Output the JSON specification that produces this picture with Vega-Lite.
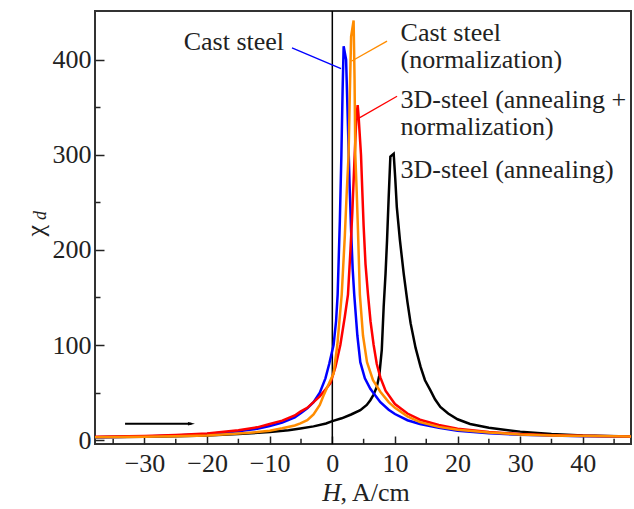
{
  "$schema": "https://vega.github.io/schema/vega-lite/v6.json",
  "width": 536,
  "height": 433,
  "autosize": "none",
  "padding": {"left": 95, "top": 11, "right": 3, "bottom": 65},
  "background": "white",
  "config": {"view": {"stroke": "#333", "strokeWidth": 2}, "font": "Liberation Serif, Times New Roman, Times, serif"},
  "datasets": {
    "curves": [
      {"series": "3D-steel (annealing)", "H": -37.9, "chi": 3},
      {"series": "3D-steel (annealing)", "H": -30, "chi": 3.5},
      {"series": "3D-steel (annealing)", "H": -25, "chi": 4.2},
      {"series": "3D-steel (annealing)", "H": -20, "chi": 5},
      {"series": "3D-steel (annealing)", "H": -15, "chi": 6.5},
      {"series": "3D-steel (annealing)", "H": -10, "chi": 8.5},
      {"series": "3D-steel (annealing)", "H": -7, "chi": 10.5},
      {"series": "3D-steel (annealing)", "H": -5.1, "chi": 12.3},
      {"series": "3D-steel (annealing)", "H": -3, "chi": 14.5},
      {"series": "3D-steel (annealing)", "H": -1, "chi": 17.5},
      {"series": "3D-steel (annealing)", "H": 0, "chi": 20},
      {"series": "3D-steel (annealing)", "H": 1.5, "chi": 23},
      {"series": "3D-steel (annealing)", "H": 3, "chi": 27},
      {"series": "3D-steel (annealing)", "H": 4.47, "chi": 31.6},
      {"series": "3D-steel (annealing)", "H": 5.5, "chi": 37},
      {"series": "3D-steel (annealing)", "H": 6.07, "chi": 42},
      {"series": "3D-steel (annealing)", "H": 6.6, "chi": 48},
      {"series": "3D-steel (annealing)", "H": 7.1, "chi": 56},
      {"series": "3D-steel (annealing)", "H": 7.5, "chi": 68},
      {"series": "3D-steel (annealing)", "H": 7.9, "chi": 95},
      {"series": "3D-steel (annealing)", "H": 8.2, "chi": 140},
      {"series": "3D-steel (annealing)", "H": 8.5, "chi": 175},
      {"series": "3D-steel (annealing)", "H": 8.74, "chi": 210},
      {"series": "3D-steel (annealing)", "H": 9.0, "chi": 255},
      {"series": "3D-steel (annealing)", "H": 9.27, "chi": 298},
      {"series": "3D-steel (annealing)", "H": 9.8, "chi": 301},
      {"series": "3D-steel (annealing)", "H": 10.05, "chi": 275},
      {"series": "3D-steel (annealing)", "H": 10.3, "chi": 245},
      {"series": "3D-steel (annealing)", "H": 10.8, "chi": 210},
      {"series": "3D-steel (annealing)", "H": 11.4, "chi": 175},
      {"series": "3D-steel (annealing)", "H": 12.0, "chi": 145},
      {"series": "3D-steel (annealing)", "H": 12.5, "chi": 123},
      {"series": "3D-steel (annealing)", "H": 13.3, "chi": 97},
      {"series": "3D-steel (annealing)", "H": 14.1, "chi": 77},
      {"series": "3D-steel (annealing)", "H": 14.8, "chi": 63},
      {"series": "3D-steel (annealing)", "H": 15.65, "chi": 52.6},
      {"series": "3D-steel (annealing)", "H": 16.4, "chi": 43},
      {"series": "3D-steel (annealing)", "H": 17.25, "chi": 35},
      {"series": "3D-steel (annealing)", "H": 18.5, "chi": 28},
      {"series": "3D-steel (annealing)", "H": 20, "chi": 22},
      {"series": "3D-steel (annealing)", "H": 22, "chi": 17},
      {"series": "3D-steel (annealing)", "H": 25, "chi": 13},
      {"series": "3D-steel (annealing)", "H": 30, "chi": 9},
      {"series": "3D-steel (annealing)", "H": 35, "chi": 6.5},
      {"series": "3D-steel (annealing)", "H": 40, "chi": 5},
      {"series": "3D-steel (annealing)", "H": 47.7, "chi": 4},

      {"series": "Cast steel", "H": -37.9, "chi": 3},
      {"series": "Cast steel", "H": -30, "chi": 4},
      {"series": "Cast steel", "H": -25, "chi": 5},
      {"series": "Cast steel", "H": -20, "chi": 6.5},
      {"series": "Cast steel", "H": -15, "chi": 9.5},
      {"series": "Cast steel", "H": -12, "chi": 12},
      {"series": "Cast steel", "H": -10, "chi": 15},
      {"series": "Cast steel", "H": -8, "chi": 18.5},
      {"series": "Cast steel", "H": -6, "chi": 24},
      {"series": "Cast steel", "H": -5, "chi": 28.5},
      {"series": "Cast steel", "H": -4, "chi": 33.5},
      {"series": "Cast steel", "H": -3, "chi": 40},
      {"series": "Cast steel", "H": -2, "chi": 50},
      {"series": "Cast steel", "H": -1.1, "chi": 65},
      {"series": "Cast steel", "H": -0.5, "chi": 80},
      {"series": "Cast steel", "H": 0.2, "chi": 100},
      {"series": "Cast steel", "H": 0.6, "chi": 125},
      {"series": "Cast steel", "H": 0.85, "chi": 153},
      {"series": "Cast steel", "H": 1.2, "chi": 230},
      {"series": "Cast steel", "H": 1.45, "chi": 300},
      {"series": "Cast steel", "H": 1.65, "chi": 370},
      {"series": "Cast steel", "H": 1.81, "chi": 414},
      {"series": "Cast steel", "H": 2.2, "chi": 400},
      {"series": "Cast steel", "H": 2.5, "chi": 330},
      {"series": "Cast steel", "H": 2.75, "chi": 270},
      {"series": "Cast steel", "H": 3.0, "chi": 220},
      {"series": "Cast steel", "H": 3.25, "chi": 180},
      {"series": "Cast steel", "H": 3.5, "chi": 153},
      {"series": "Cast steel", "H": 4.0, "chi": 110},
      {"series": "Cast steel", "H": 4.47, "chi": 82},
      {"series": "Cast steel", "H": 5.2, "chi": 65},
      {"series": "Cast steel", "H": 6.07, "chi": 54},
      {"series": "Cast steel", "H": 7.67, "chi": 40},
      {"series": "Cast steel", "H": 9, "chi": 32},
      {"series": "Cast steel", "H": 10, "chi": 27.5},
      {"series": "Cast steel", "H": 12, "chi": 21},
      {"series": "Cast steel", "H": 14, "chi": 17},
      {"series": "Cast steel", "H": 17, "chi": 13},
      {"series": "Cast steel", "H": 20, "chi": 10},
      {"series": "Cast steel", "H": 25, "chi": 7.3},
      {"series": "Cast steel", "H": 30, "chi": 5.7},
      {"series": "Cast steel", "H": 35, "chi": 4.8},
      {"series": "Cast steel", "H": 40, "chi": 4.1},
      {"series": "Cast steel", "H": 47.7, "chi": 3.5},

      {"series": "3D-steel (annealing + normalization)", "H": -37.9, "chi": 3.5},
      {"series": "3D-steel (annealing + normalization)", "H": -30, "chi": 4.5},
      {"series": "3D-steel (annealing + normalization)", "H": -25, "chi": 5.5},
      {"series": "3D-steel (annealing + normalization)", "H": -20, "chi": 7},
      {"series": "3D-steel (annealing + normalization)", "H": -15, "chi": 10.5},
      {"series": "3D-steel (annealing + normalization)", "H": -12, "chi": 13.5},
      {"series": "3D-steel (annealing + normalization)", "H": -10, "chi": 17},
      {"series": "3D-steel (annealing + normalization)", "H": -8, "chi": 20.5},
      {"series": "3D-steel (annealing + normalization)", "H": -6, "chi": 26},
      {"series": "3D-steel (annealing + normalization)", "H": -5.1, "chi": 30},
      {"series": "3D-steel (annealing + normalization)", "H": -4, "chi": 34},
      {"series": "3D-steel (annealing + normalization)", "H": -3, "chi": 40},
      {"series": "3D-steel (annealing + normalization)", "H": -2, "chi": 46},
      {"series": "3D-steel (annealing + normalization)", "H": -1, "chi": 54},
      {"series": "3D-steel (annealing + normalization)", "H": -0.3, "chi": 60},
      {"series": "3D-steel (annealing + normalization)", "H": 0.5, "chi": 77},
      {"series": "3D-steel (annealing + normalization)", "H": 1.28, "chi": 100},
      {"series": "3D-steel (annealing + normalization)", "H": 2.0, "chi": 130},
      {"series": "3D-steel (annealing + normalization)", "H": 2.5, "chi": 153},
      {"series": "3D-steel (annealing + normalization)", "H": 2.9, "chi": 200},
      {"series": "3D-steel (annealing + normalization)", "H": 3.2, "chi": 240},
      {"series": "3D-steel (annealing + normalization)", "H": 3.57, "chi": 300},
      {"series": "3D-steel (annealing + normalization)", "H": 3.85, "chi": 340},
      {"series": "3D-steel (annealing + normalization)", "H": 4.05, "chi": 352},
      {"series": "3D-steel (annealing + normalization)", "H": 4.2, "chi": 340},
      {"series": "3D-steel (annealing + normalization)", "H": 4.58, "chi": 300},
      {"series": "3D-steel (annealing + normalization)", "H": 4.8, "chi": 260},
      {"series": "3D-steel (annealing + normalization)", "H": 5.0, "chi": 225},
      {"series": "3D-steel (annealing + normalization)", "H": 5.3, "chi": 185},
      {"series": "3D-steel (annealing + normalization)", "H": 5.7, "chi": 153},
      {"series": "3D-steel (annealing + normalization)", "H": 6.1, "chi": 125},
      {"series": "3D-steel (annealing + normalization)", "H": 6.6, "chi": 100},
      {"series": "3D-steel (annealing + normalization)", "H": 7.1, "chi": 80},
      {"series": "3D-steel (annealing + normalization)", "H": 7.67, "chi": 66},
      {"series": "3D-steel (annealing + normalization)", "H": 8.5, "chi": 52},
      {"series": "3D-steel (annealing + normalization)", "H": 10, "chi": 38},
      {"series": "3D-steel (annealing + normalization)", "H": 12, "chi": 28},
      {"series": "3D-steel (annealing + normalization)", "H": 14, "chi": 21.5},
      {"series": "3D-steel (annealing + normalization)", "H": 17, "chi": 16},
      {"series": "3D-steel (annealing + normalization)", "H": 20, "chi": 12},
      {"series": "3D-steel (annealing + normalization)", "H": 25, "chi": 8.5},
      {"series": "3D-steel (annealing + normalization)", "H": 30, "chi": 6.5},
      {"series": "3D-steel (annealing + normalization)", "H": 35, "chi": 5.3},
      {"series": "3D-steel (annealing + normalization)", "H": 40, "chi": 4.6},
      {"series": "3D-steel (annealing + normalization)", "H": 47.7, "chi": 4},

      {"series": "Cast steel (normalization)", "H": -37.9, "chi": 3},
      {"series": "Cast steel (normalization)", "H": -30, "chi": 3.5},
      {"series": "Cast steel (normalization)", "H": -25, "chi": 4.2},
      {"series": "Cast steel (normalization)", "H": -20, "chi": 5},
      {"series": "Cast steel (normalization)", "H": -15, "chi": 7},
      {"series": "Cast steel (normalization)", "H": -12, "chi": 8.5},
      {"series": "Cast steel (normalization)", "H": -10, "chi": 10},
      {"series": "Cast steel (normalization)", "H": -8, "chi": 12.5},
      {"series": "Cast steel (normalization)", "H": -6, "chi": 15.5},
      {"series": "Cast steel (normalization)", "H": -5.1, "chi": 17.6},
      {"series": "Cast steel (normalization)", "H": -4, "chi": 21},
      {"series": "Cast steel (normalization)", "H": -3, "chi": 27},
      {"series": "Cast steel (normalization)", "H": -2, "chi": 37},
      {"series": "Cast steel (normalization)", "H": -1.4, "chi": 47},
      {"series": "Cast steel (normalization)", "H": -0.5, "chi": 60},
      {"series": "Cast steel (normalization)", "H": 0.2, "chi": 70},
      {"series": "Cast steel (normalization)", "H": 0.8, "chi": 100},
      {"series": "Cast steel (normalization)", "H": 1.5, "chi": 153},
      {"series": "Cast steel (normalization)", "H": 2.0, "chi": 215},
      {"series": "Cast steel (normalization)", "H": 2.3, "chi": 260},
      {"series": "Cast steel (normalization)", "H": 2.6, "chi": 300},
      {"series": "Cast steel (normalization)", "H": 2.8, "chi": 365},
      {"series": "Cast steel (normalization)", "H": 3.0, "chi": 424},
      {"series": "Cast steel (normalization)", "H": 3.4, "chi": 441},
      {"series": "Cast steel (normalization)", "H": 3.55, "chi": 380},
      {"series": "Cast steel (normalization)", "H": 3.67, "chi": 300},
      {"series": "Cast steel (normalization)", "H": 3.9, "chi": 260},
      {"series": "Cast steel (normalization)", "H": 4.1, "chi": 220},
      {"series": "Cast steel (normalization)", "H": 4.4, "chi": 153},
      {"series": "Cast steel (normalization)", "H": 4.9, "chi": 110},
      {"series": "Cast steel (normalization)", "H": 5.54, "chi": 82},
      {"series": "Cast steel (normalization)", "H": 6.5, "chi": 63},
      {"series": "Cast steel (normalization)", "H": 7.67, "chi": 51},
      {"series": "Cast steel (normalization)", "H": 9, "chi": 40},
      {"series": "Cast steel (normalization)", "H": 10, "chi": 34},
      {"series": "Cast steel (normalization)", "H": 12, "chi": 25},
      {"series": "Cast steel (normalization)", "H": 14, "chi": 19},
      {"series": "Cast steel (normalization)", "H": 17, "chi": 14},
      {"series": "Cast steel (normalization)", "H": 20, "chi": 11},
      {"series": "Cast steel (normalization)", "H": 25, "chi": 8},
      {"series": "Cast steel (normalization)", "H": 30, "chi": 6},
      {"series": "Cast steel (normalization)", "H": 35, "chi": 5},
      {"series": "Cast steel (normalization)", "H": 40, "chi": 4.5},
      {"series": "Cast steel (normalization)", "H": 47.7, "chi": 4}
    ],
    "zero": [{"H": 0}],
    "minorX": [{"H": -35}, {"H": -25}, {"H": -15}, {"H": -5}, {"H": 5}, {"H": 15}, {"H": 25}, {"H": 35}, {"H": 45}],
    "leaders": [
      {"series": "Cast steel", "H": -6.44, "chi": 412.3, "H2": 1.39, "chi2": 390.5},
      {"series": "Cast steel (normalization)", "H": 8.74, "chi": 419.3, "H2": 3.04, "chi2": 398.2},
      {"series": "3D-steel (annealing + normalization)", "H": 10.34, "chi": 361.4, "H2": 3.83, "chi2": 336.8}
    ],
    "labelsRight": [
      {"text": "Cast steel", "H": -7.7, "chi": 418}
    ],
    "labelsLeft": [
      {"text": "Cast steel", "H": 10.9, "chi": 428},
      {"text": "(normalization)", "H": 10.9, "chi": 400},
      {"text": "3D-steel (annealing +", "H": 10.9, "chi": 358},
      {"text": "normalization)", "H": 10.9, "chi": 329},
      {"text": "3D-steel (annealing)", "H": 10.9, "chi": 284}
    ],
    "arrowLine": [{"H": -33.1, "H2": -22.5, "chi": 17.4}],
    "arrowHead": [{"H": -22.5, "chi": 17.4}],
    "xTitleItalic": [{"text": "H", "H": -1.6, "chi": -55.8}],
    "xTitleNormal": [{"text": ", A/cm", "H": 1.3, "chi": -55.8}],
    "yTitleChi": [{"text": "χ", "H": -47.4, "chi": 220}],
    "yTitleSub": [{"text": "d", "H": -46.6, "chi": 236}]
  },
  "layer": [
    {
      "data": {"name": "zero"},
      "mark": {"type": "rule", "color": "#000", "strokeWidth": 1.5},
      "encoding": {
        "x": {"field": "H", "type": "quantitative"}
      }
    },
    {
      "data": {"name": "minorX"},
      "mark": {"type": "rule", "color": "#222", "strokeWidth": 1.5},
      "encoding": {
        "x": {"field": "H", "type": "quantitative"},
        "y": {"datum": -4},
        "y2": {"datum": 1.5}
      }
    },
    {
      "data": {"name": "curves"},
      "mark": {"type": "line", "strokeWidth": 2.5, "clip": true},
      "encoding": {
        "x": {
          "field": "H", "type": "quantitative",
          "scale": {"domain": [-37.9, 47.7], "nice": false, "zero": false},
          "axis": {
            "title": null, "domain": false, "grid": false,
            "values": [-30, -20, -10, 0, 10, 20, 30, 40],
            "tickSize": -8,
            "tickColor": "#222", "tickWidth": 1.5,
            "labelFont": "Liberation Serif, Times New Roman, Times, serif", "labelFontSize": 26, "labelColor": "#222",
            "labelPadding": 14, "labelFlush": false, "labelOverlap": false
          }
        },
        "y": {
          "field": "chi", "type": "quantitative",
          "scale": {"domain": [-4, 451], "nice": false, "zero": false},
          "axis": {
            "title": null, "domain": false, "grid": false,
            "values": [0, 50, 100, 150, 200, 250, 300, 350, 400],
            "labelExpr": "datum.value % 100 === 0 ? datum.label : ''",
            "tickSize": {"condition": {"test": "datum.value % 100 === 0", "value": -9}, "value": -5},
            "tickColor": "#222", "tickWidth": 1.5,
            "labelFont": "Liberation Serif, Times New Roman, Times, serif", "labelFontSize": 26, "labelColor": "#222",
            "labelPadding": 13, "labelFlush": false, "labelOverlap": false
          }
        },
        "color": {
          "field": "series", "type": "nominal",
          "scale": {
            "domain": ["3D-steel (annealing)", "Cast steel", "3D-steel (annealing + normalization)", "Cast steel (normalization)"],
            "range": ["#000000", "#0000ff", "#ff0000", "#ff8c00"]
          },
          "legend": null
        }
      }
    },
    {
      "data": {"name": "leaders"},
      "mark": {"type": "rule", "strokeWidth": 1.3},
      "encoding": {
        "x": {"field": "H", "type": "quantitative"},
        "x2": {"field": "H2"},
        "y": {"field": "chi", "type": "quantitative"},
        "y2": {"field": "chi2"},
        "color": {"field": "series", "type": "nominal", "legend": null}
      }
    },
    {
      "data": {"name": "labelsRight"},
      "mark": {"type": "text", "align": "right", "baseline": "middle", "fontSize": 26, "font": "Liberation Serif, Times New Roman, Times, serif", "color": "#222"},
      "encoding": {
        "x": {"field": "H", "type": "quantitative"},
        "y": {"field": "chi", "type": "quantitative"},
        "text": {"field": "text"}
      }
    },
    {
      "data": {"name": "labelsLeft"},
      "mark": {"type": "text", "align": "left", "baseline": "middle", "fontSize": 26, "font": "Liberation Serif, Times New Roman, Times, serif", "color": "#222"},
      "encoding": {
        "x": {"field": "H", "type": "quantitative"},
        "y": {"field": "chi", "type": "quantitative"},
        "text": {"field": "text"}
      }
    },
    {
      "data": {"name": "arrowLine"},
      "mark": {"type": "rule", "color": "#000", "strokeWidth": 2},
      "encoding": {
        "x": {"field": "H", "type": "quantitative"},
        "x2": {"field": "H2"},
        "y": {"field": "chi", "type": "quantitative"}
      }
    },
    {
      "data": {"name": "arrowHead"},
      "mark": {"type": "point", "shape": "M-1,-0.5L1,0L-1,0.5Z", "size": 49, "filled": true, "color": "#000", "opacity": 1},
      "encoding": {
        "x": {"field": "H", "type": "quantitative"},
        "y": {"field": "chi", "type": "quantitative"}
      }
    },
    {
      "data": {"name": "xTitleItalic"},
      "mark": {"type": "text", "align": "left", "baseline": "middle", "fontSize": 26, "fontStyle": "italic", "font": "Liberation Serif, Times New Roman, Times, serif", "color": "#222"},
      "encoding": {
        "x": {"field": "H", "type": "quantitative"},
        "y": {"field": "chi", "type": "quantitative"},
        "text": {"field": "text"}
      }
    },
    {
      "data": {"name": "xTitleNormal"},
      "mark": {"type": "text", "align": "left", "baseline": "middle", "fontSize": 26, "font": "Liberation Serif, Times New Roman, Times, serif", "color": "#222"},
      "encoding": {
        "x": {"field": "H", "type": "quantitative"},
        "y": {"field": "chi", "type": "quantitative"},
        "text": {"field": "text"}
      }
    },
    {
      "data": {"name": "yTitleChi"},
      "mark": {"type": "text", "align": "center", "baseline": "middle", "angle": 270, "fontSize": 26, "font": "Liberation Serif, Times New Roman, Times, serif", "color": "#222"},
      "encoding": {
        "x": {"field": "H", "type": "quantitative"},
        "y": {"field": "chi", "type": "quantitative"},
        "text": {"field": "text"}
      }
    },
    {
      "data": {"name": "yTitleSub"},
      "mark": {"type": "text", "align": "center", "baseline": "middle", "angle": 270, "fontSize": 18, "fontStyle": "italic", "font": "Liberation Serif, Times New Roman, Times, serif", "color": "#222"},
      "encoding": {
        "x": {"field": "H", "type": "quantitative"},
        "y": {"field": "chi", "type": "quantitative"},
        "text": {"field": "text"}
      }
    }
  ]
}
